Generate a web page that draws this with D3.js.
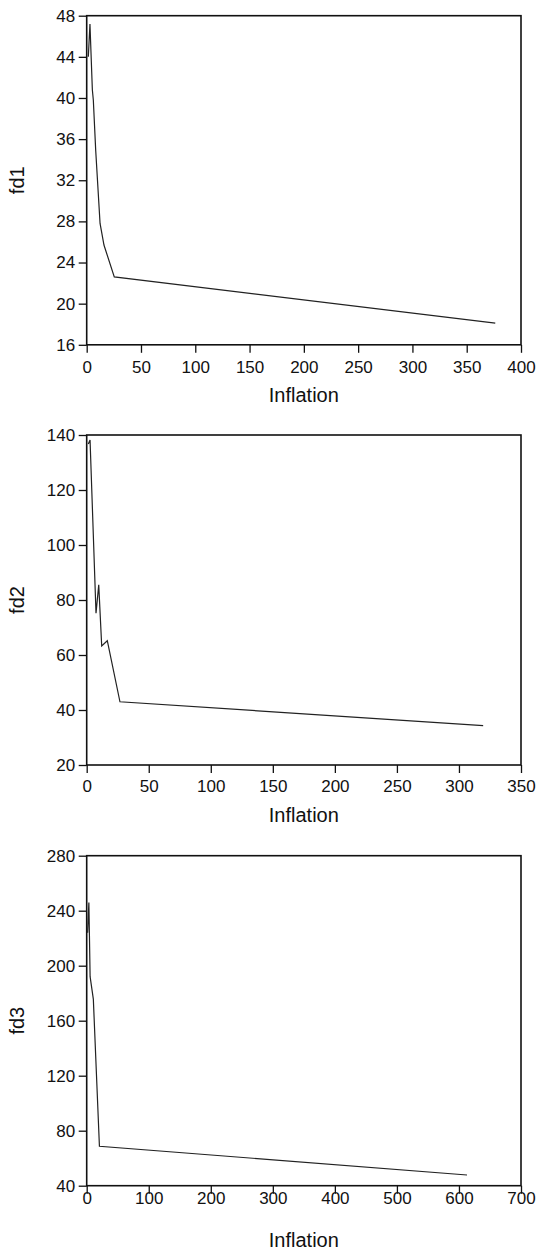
<!DOCTYPE html>
<html>
<head>
<meta charset="utf-8">
<script src="https://cdn.jsdelivr.net/npm/d3@7"></script>
<style>
  body { margin: 0; background: #fff; }
  text { font-family: "Liberation Sans", Arial, sans-serif; fill: #111; }
</style>
</head>
<body>
<div id="chart"></div>
<script>
const width = 540;
const height = 1250;

// ----- data ----- //
const fd1Inflation = [1.5, 3.0, 5.2, 6.1, 8.3, 12.3, 15.9, 25.4, 376.3];
const fd1Values = [44.0, 47.2, 40.8, 39.8, 34.9, 27.8, 25.7, 22.6, 18.1];
const fd1XTicks = [0, 50, 100, 150, 200, 250, 300, 350, 400];
const fd1YTicks = [16, 20, 24, 28, 32, 36, 40, 44, 48];

const fd2Inflation = [1.3, 2.7, 7.5, 9.7, 12.1, 16.6, 26.8, 319.5];
const fd2Values = [136.7, 138.2, 75.2, 85.5, 63.3, 65.2, 43.0, 34.3];
const fd2XTicks = [0, 50, 100, 150, 200, 250, 300, 350];
const fd2YTicks = [20, 40, 60, 80, 100, 120, 140];

const fd3Inflation = [1.5, 3.5, 4.4, 5.5, 10.7, 20.5, 613];
const fd3Values = [224, 246, 222, 192, 175.7, 68.7, 47.8];
const fd3XTicks = [0, 100, 200, 300, 400, 500, 600, 700];
const fd3YTicks = [40, 80, 120, 160, 200, 240, 280];

const yTitles = ["fd1", "fd2", "fd3"];
const xTitle = "Inflation";

// panel layout (pixels)
const left = 86.7;
const right = 521;
const panels = [
  { top: 15.7, bottom: 344.8, xs: fd1Inflation, ys: fd1Values, xTicks: fd1XTicks, yTicks: fd1YTicks, labOff: 22.2, titleOff: 49.7 },
  { top: 435, bottom: 765, xs: fd2Inflation, ys: fd2Values, xTicks: fd2XTicks, yTicks: fd2YTicks, labOff: 20.7, titleOff: 49.8 },
  { top: 855.7, bottom: 1185.7, xs: fd3Inflation, ys: fd3Values, xTicks: fd3XTicks, yTicks: fd3YTicks, labOff: 12.6, titleOff: 53.7 },
];

const svg = d3
  .select("#chart")
  .append("svg")
  .attr("width", width)
  .attr("height", height);

panels.forEach((p, i) => drawPanel(p, yTitles[i]));

function drawPanel(p, yTitle) {
  const xScale = d3
    .scaleLinear()
    .domain(d3.extent(p.xTicks))
    .range([left, right]);
  const yScale = d3
    .scaleLinear()
    .domain(d3.extent(p.yTicks))
    .range([p.bottom, p.top]);

  const g = svg.append("g");

  // x axis, labels placed by hand-measured offset
  const xAxis = g
    .append("g")
    .attr("transform", `translate(0,${p.bottom})`)
    .call(d3.axisBottom(xScale).tickValues(p.xTicks).tickSize(8).tickFormat(d3.format("d")));
  xAxis.select(".domain").remove();
  xAxis.selectAll("line").attr("stroke", "#111").attr("stroke-width", 1.3);
  xAxis
    .selectAll("text")
    .attr("y", p.labOff)
    .attr("dy", "0.36em")
    .style("font-size", "17px");

  const yAxis = g
    .append("g")
    .attr("transform", `translate(${left},0)`)
    .call(d3.axisLeft(yScale).tickValues(p.yTicks).tickSize(8).tickPadding(3.5));
  yAxis.select(".domain").remove();
  yAxis.selectAll("line").attr("stroke", "#111").attr("stroke-width", 1.3);
  yAxis.selectAll("text").style("font-size", "17px");

  // frame
  g.append("rect")
    .attr("x", left)
    .attr("y", p.top)
    .attr("width", right - left)
    .attr("height", p.bottom - p.top)
    .attr("fill", "none")
    .attr("stroke", "#111")
    .attr("stroke-width", 1.6);

  // the series
  const line = d3
    .line()
    .x(d => xScale(d[0]))
    .y(d => yScale(d[1]));
  g.append("path")
    .datum(d3.zip(p.xs, p.ys))
    .attr("d", line)
    .attr("fill", "none")
    .attr("stroke", "#222")
    .attr("stroke-width", 1.2);

  // titles
  g.append("text")
    .attr("x", (left + right) / 2)
    .attr("y", p.bottom + p.titleOff)
    .attr("dy", "0.36em")
    .attr("text-anchor", "middle")
    .style("font-size", "20px")
    .text(xTitle);

  g.append("text")
    .attr("transform", `translate(17,${(p.top + p.bottom) / 2}) rotate(-90)`)
    .attr("dy", "0.36em")
    .attr("text-anchor", "middle")
    .style("font-size", "20px")
    .text(yTitle);
}
</script>
</body>
</html>
